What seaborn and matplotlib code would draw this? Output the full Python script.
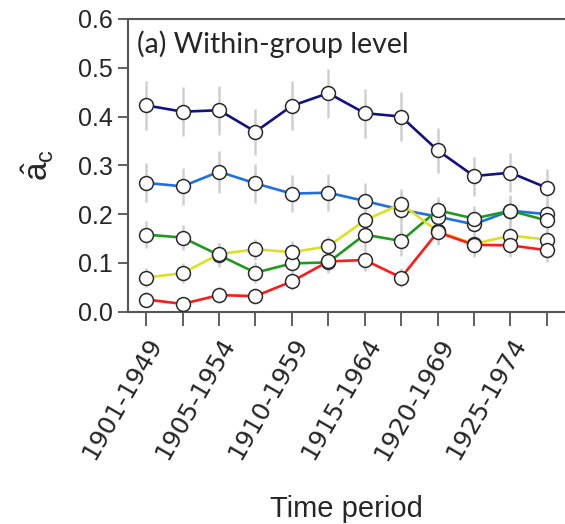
import numpy as np
import pandas as pd
import matplotlib
matplotlib.use("Agg")
import matplotlib.pyplot as plt
import seaborn as sns

# ---- data ----
positions = list(range(12))
tick_labels = ["1901-1949", "", "1905-1954", "", "1910-1959", "", "1915-1964", "",
               "1920-1969", "", "1925-1974", ""]
series_names = ["navy", "blue", "green", "yellow", "red"]
navy_vals = [0.423, 0.410, 0.413, 0.369, 0.422, 0.448, 0.407, 0.400, 0.331, 0.278, 0.285, 0.254]
blue_vals = [0.264, 0.257, 0.287, 0.263, 0.242, 0.244, 0.227, 0.209, 0.195, 0.179, 0.207, 0.200]
green_vals = [0.158, 0.152, 0.116, 0.080, 0.099, 0.101, 0.158, 0.145, 0.208, 0.191, 0.207, 0.187]
yellow_vals = [0.070, 0.079, 0.118, 0.128, 0.122, 0.134, 0.187, 0.221, 0.165, 0.139, 0.156, 0.148]
red_vals = [0.025, 0.016, 0.034, 0.032, 0.062, 0.103, 0.106, 0.070, 0.163, 0.137, 0.136, 0.126]
navy_err = [0.050, 0.050, 0.050, 0.047, 0.050, 0.050, 0.050, 0.050, 0.046, 0.040, 0.040, 0.038]
blue_err = [0.040, 0.038, 0.043, 0.040, 0.038, 0.038, 0.036, 0.035, 0.033, 0.032, 0.032, 0.030]
green_err = [0.027, 0.025, 0.024, 0.022, 0.022, 0.022, 0.030, 0.030, 0.028, 0.026, 0.028, 0.026]
yellow_err = [0.020, 0.020, 0.022, 0.022, 0.022, 0.022, 0.028, 0.030, 0.026, 0.024, 0.025, 0.024]
red_err = [0.015, 0.015, 0.016, 0.016, 0.018, 0.020, 0.022, 0.020, 0.026, 0.024, 0.024, 0.024]
colors = ["#111184", "#1e6fe6", "#1f9a1f", "#dede22", "#ff1a1a"]
y_ticks = [0.0, 0.1, 0.2, 0.3, 0.4, 0.5, 0.6]
title_text = "(a) Within-group level"
x_title = "Time period"
y_title = r"$\hat{a}_c$"

vals = [navy_vals, blue_vals, green_vals, yellow_vals, red_vals]
errs = [navy_err, blue_err, green_err, yellow_err, red_err]
df = pd.DataFrame({
    "x": positions * len(series_names),
    "y": sum(vals, []),
    "err": sum(errs, []),
    "series": sum([[n] * len(positions) for n in series_names], []),
})

sns.set_style("white")
plt.rcParams["font.family"] = ["Liberation Sans", "DejaVu Sans"]
plt.rcParams["mathtext.fontset"] = "custom"
plt.rcParams["mathtext.rm"] = "Liberation Sans"
plt.rcParams["mathtext.it"] = "Liberation Sans"

fig = plt.figure(figsize=(5.65, 5.24), dpi=100)
ax = fig.add_axes([128 / 565, (524 - 311.7) / 524, 437 / 565, 292.7 / 524])

# error bars (light gray) behind
ax.vlines(df["x"], df["y"] - df["err"], df["y"] + df["err"], color="#d0d0d0", lw=1.8, zorder=1)

sns.lineplot(data=df, x="x", y="y", hue="series", hue_order=series_names,
             palette=colors, lw=1.9, marker="o", markersize=10,
             markerfacecolor="white", markeredgecolor="#2a2a2a", markeredgewidth=1.1,
             legend=False, ax=ax, zorder=3)

ax.set_xlim(-0.5, 11.5)
ax.set_ylim(0, 0.6)
ax.set_xticks(positions)
ax.set_xticklabels(tick_labels, rotation=60, ha="right", rotation_mode="anchor",
                   fontsize=18, family="DejaVu Sans")
ax.set_yticks(y_ticks)
ax.set_yticklabels([f"{t:.1f}" for t in y_ticks], fontsize=18)
ax.tick_params(axis="x", direction="out", length=10, width=1.2, color="#444444", pad=6)
ax.tick_params(axis="y", direction="out", length=7, width=1.2, color="#444444", pad=4)
ax.tick_params(which="both", bottom=True, left=True)
for s in ["left", "bottom", "top"]:
    ax.spines[s].set_color("#555555")
    ax.spines[s].set_linewidth(1.5)
ax.spines["right"].set_visible(False)

ax.set_xlabel(x_title, fontsize=21, labelpad=22)
ax.set_ylabel(y_title, fontsize=24, labelpad=16)
ax.text(0.02, 0.96, title_text, transform=ax.transAxes, fontsize=20.5,
        va="top", ha="left", family=["Lato", "DejaVu Sans"])

fig.savefig("out.png", dpi=100)
